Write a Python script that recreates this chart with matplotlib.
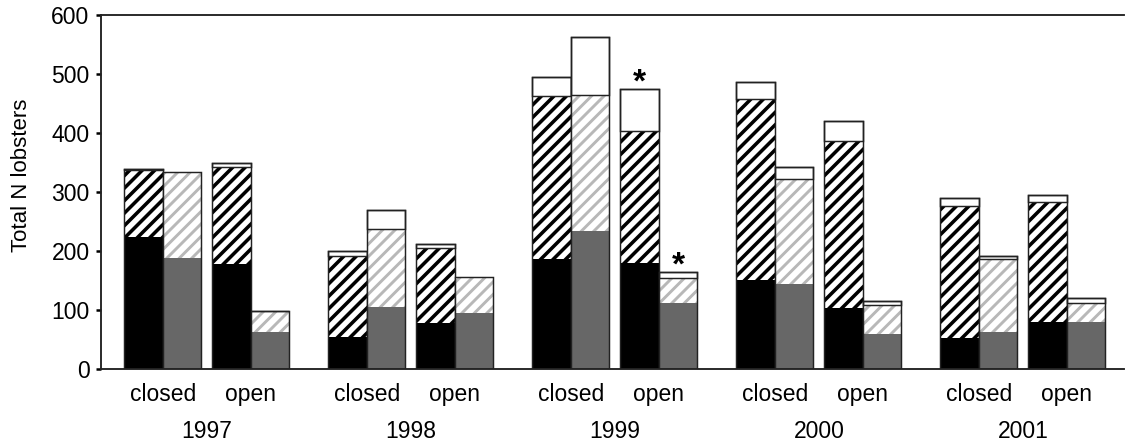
import matplotlib
matplotlib.use("Agg")
import matplotlib.pyplot as plt
import numpy as np

plt.rcParams["font.family"] = ["Liberation Sans", "DejaVu Sans"]

# Survey years and site types
years = ["1997", "1998", "1999", "2000", "2001"]
sites = ["closed", "open"]

# Dark series (per year: closed, open) -- solid / hatched / white segments
dark_solid = [224, 178, 55, 79, 187, 180, 151, 104, 53, 80]
dark_hatched = [114, 164, 137, 127, 275, 224, 307, 282, 223, 204]
dark_white = [1, 7, 9, 6, 33, 70, 29, 35, 14, 11]

# Grey series (per year: closed, open) -- solid / hatched / white segments
grey_solid = [189, 64, 106, 95, 235, 112, 144, 59, 63, 80]
grey_hatched = [145, 34, 132, 61, 229, 43, 179, 50, 123, 33]
grey_white = [0, 1, 31, 0, 99, 9, 20, 7, 6, 8]

# Bars flagged as significant
dark_star = [False, False, False, False, False, True, False, False, False, False]
grey_star = [False, False, False, False, False, True, False, False, False, False]

DPI = 150
fig = plt.figure(figsize=(1125 / DPI, 445 / DPI), dpi=DPI)
ax = fig.add_axes([101 / 1125, 1 - 369.3 / 445, 1023 / 1125, 354.3 / 445])

EDGE = "#222222"
group_step = 5.3
pair_offset = 2.28
first_left = 0.605

lefts = []
for g in range(len(years)):
    for s in range(len(sites)):
        lefts.append(first_left + group_step * g + pair_offset * s)
lefts = np.array(lefts)


def draw_series(x, solid, hatched, white, solid_color, hatch_color, hatch_lw):
    solid = np.array(solid, float)
    hatched = np.array(hatched, float)
    white = np.array(white, float)
    ax.bar(x, solid, width=1, align="edge", color=solid_color, linewidth=0)
    plt.rcParams["hatch.linewidth"] = hatch_lw
    ax.bar(x, hatched, bottom=solid, width=1, align="edge", facecolor="white",
           edgecolor=hatch_color, hatch="////", linewidth=0)
    top = solid + hatched
    total = top + white
    # white cap, outlined
    for xi, b, h in zip(x, top, white):
        if h > 0:
            ax.bar(xi, h, bottom=b, width=1, align="edge", facecolor="white",
                   edgecolor=EDGE, linewidth=0.7)
    # outline of whole bar
    ax.bar(x, total, width=1, align="edge", fill=False, edgecolor=EDGE,
           linewidth=0.7)
    return total


dark_total = draw_series(lefts, dark_solid, dark_hatched, dark_white,
                         "black", "black", 1.7)
grey_total = draw_series(lefts + 1, grey_solid, grey_hatched, grey_white,
                         "#676767", "#b8b8b8", 1.4)

for xs, totals, stars in ((lefts, dark_total, dark_star),
                          (lefts + 1, grey_total, grey_star)):
    for xi, t, st in zip(xs, totals, stars):
        if st:
            ax.annotate("*", xy=(xi + 0.5, t), xytext=(0, -4.5),
                        textcoords="offset points", ha="center", va="bottom",
                        fontsize=16, fontweight="bold")

ax.set_xlim(0, 1023 / 38.5)
ax.set_ylim(0, 600)
ax.set_yticks(range(0, 601, 100))
ax.set_xticks([])
ax.tick_params(axis="y", direction="out", length=2.5, width=1.2,
               labelsize=11, colors="black", pad=3)
for side in ("left", "bottom", "top"):
    ax.spines[side].set_color(EDGE)
    ax.spines[side].set_linewidth(0.9)
ax.spines["right"].set_visible(False)

trans = matplotlib.transforms.blended_transform_factory(ax.transData, ax.transAxes)
for i, x in enumerate(lefts):
    ax.text(x + 1, -0.0725, sites[i % 2], transform=trans, ha="center",
            va="center", fontsize=11)
for g, y in enumerate(years):
    center = (lefts[2 * g] + lefts[2 * g + 1] + 2) / 2
    ax.text(center, -0.176, y, transform=trans, ha="center", va="center",
            fontsize=11)

fig.text(21.7 / 1125, 1 - 175 / 445, "Total N lobsters", rotation=90,
         ha="center", va="center", fontsize=10.7)

fig.savefig("out.png", dpi=DPI)
